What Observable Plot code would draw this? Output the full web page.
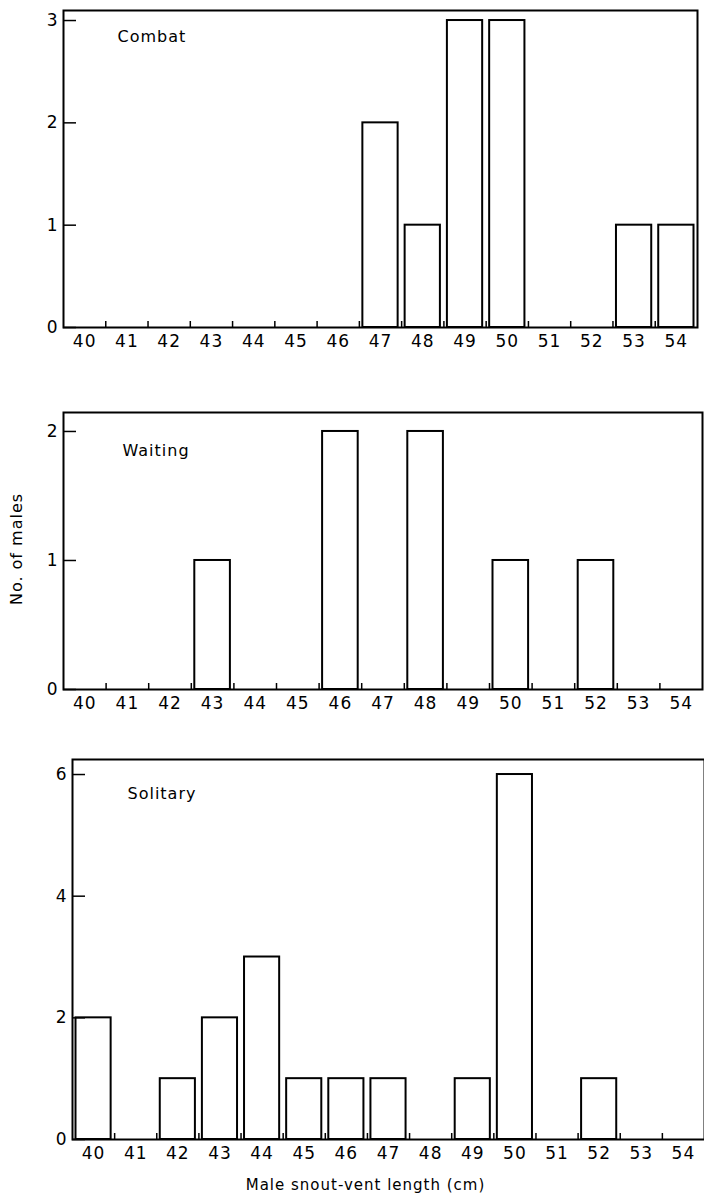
<!DOCTYPE html>
<html><head><meta charset="utf-8">
<script src="https://cdn.jsdelivr.net/npm/d3@7"></script>
<script src="https://cdn.jsdelivr.net/npm/@observablehq/plot@0.6"></script>
<style>
body{margin:0;background:#fff;}
#chart{width:704px;}
#chart svg{display:block;}
</style></head><body><div id="chart"></div>
<script>
const lengths = [40,41,42,43,44,45,46,47,48,49,50,51,52,53,54];
const boundaries = [40.5,41.5,42.5,43.5,44.5,45.5,46.5,47.5,48.5,49.5,50.5,51.5,52.5,53.5];
const combatCounts   = [0,0,0,0,0,0,0,2,1,3,3,0,0,1,1];
const waitingCounts  = [0,0,0,1,0,0,2,0,2,0,1,0,1,0,0];
const solitaryCounts = [2,0,1,2,3,1,1,1,0,1,6,0,1,0,0];
const combatTicks = [0,1,2,3];
const waitingTicks = [0,1,2];
const solitaryTicks = [0,2,4,6];
const panelNames = ["Combat","Waiting","Solitary"];
const yTitle = "No. of males";
const xTitle = "Male snout-vent length (cm)";

const font = "DejaVu Sans, sans-serif";

function panel(o) {
  const data = lengths.map((l,i)=>({length:l, count:o.counts[i]})).filter(d=>d.count>0);
  return Plot.plot({
    width:704, height:o.height,
    marginTop:o.mt, marginBottom:o.mb, marginLeft:o.ml, marginRight:o.mr,
    style:{fontFamily:font, fontSize:"16px", color:"#000", background:"#fff", letterSpacing:"1px"},
    x:{domain:[39.5,54.5]},
    y:{domain:[0,o.yMax]},
    marks:[
      Plot.rectY(data,{x1:d=>d.length-0.5, x2:d=>d.length+0.5, y:"count", insetLeft:3.5, insetRight:3.5, fill:"white", stroke:"black", strokeWidth:2}),
      Plot.frame({stroke:"black", strokeWidth:2}),
      Plot.axisX(lengths,{tickSize:0, tickPadding:7, tickFormat:d=>String(d), fontSize:17, label:null}),
      Plot.axisX(boundaries,{tickSize:-6, tickFormat:()=>"", label:null, strokeWidth:1.5}),
      Plot.axisY(o.yTicks,{tickSize:-13, tickPadding:18, tickFormat:d=>String(d), label:null, fontSize:17, strokeWidth:1.5}),
      Plot.text([o.name],{frameAnchor:"top-left", dx:o.ldx, dy:o.ldy, textAnchor:"start", lineAnchor:"middle", fontSize:16}),
      ...(o.extra||[])
    ]
  });
}

const chart = document.getElementById("chart");
chart.append(panel({name:panelNames[0], counts:combatCounts, yTicks:combatTicks, yMax:3.098,
  height:370, mt:10, mb:43, ml:63, mr:7, ldx:54, ldy:26}));
chart.append(panel({name:panelNames[1], counts:waitingCounts, yTicks:waitingTicks, yMax:2.147,
  height:370, mt:42, mb:51, ml:63, mr:2, ldx:59, ldy:38,
  extra:[Plot.text([yTitle],{frameAnchor:"left", dx:-47, dy:-2, rotate:-90, textAnchor:"middle", lineAnchor:"middle", fontSize:16})]}));
chart.append(panel({name:panelNames[2], counts:solitaryCounts, yTicks:solitaryTicks, yMax:6.247,
  height:460, mt:19, mb:61, ml:72, mr:0, ldx:55, ldy:34,
  extra:[Plot.text([xTitle],{frameAnchor:"bottom", dx:-23, dy:46, lineAnchor:"middle", fontSize:15})]}));
</script></body></html>
